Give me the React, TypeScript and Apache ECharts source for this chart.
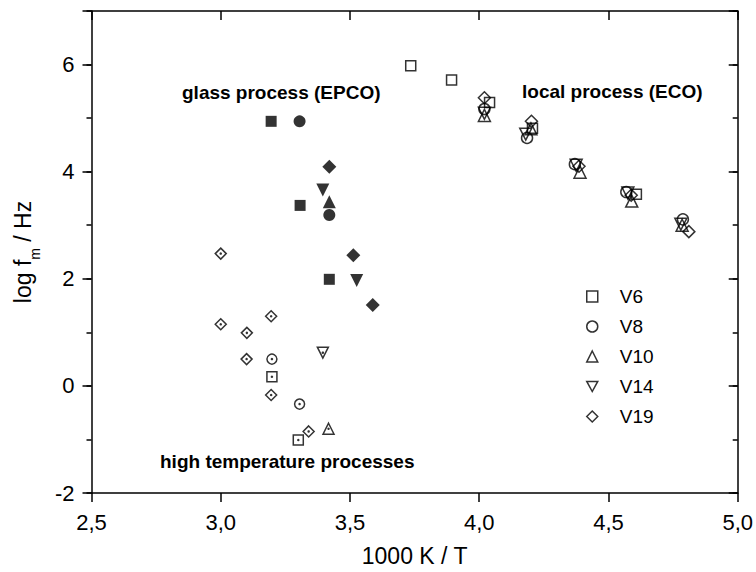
import React, { useEffect, useRef } from 'react';
import * as echarts from 'echarts';

// Samples (legend)
const samples = ['V6', 'V8', 'V10', 'V14', 'V19'];

// Local process (ECO) – open symbols  [1000K/T, log fm]
const v6Local = [[3.735, 5.98], [3.893, 5.71], [4.04, 5.29], [4.206, 4.81], [4.608, 3.58]];
const v8Local = [[4.02, 5.17], [4.185, 4.63], [4.37, 4.14], [4.569, 3.62], [4.788, 3.11]];
const v10Local = [[4.02, 5.05], [4.2, 4.8], [4.39, 3.99], [4.59, 3.45], [4.785, 3.0]];
const v14Local = [[4.02, 5.09], [4.18, 4.7], [4.375, 4.12], [4.575, 3.6], [4.78, 3.02]];
const v19Local = [[4.02, 5.38], [4.202, 4.94], [4.386, 4.1], [4.588, 3.56], [4.811, 2.88]];

// Glass process (EPCO) – filled symbols
const v6Glass = [[3.195, 4.94], [3.307, 3.37], [3.42, 1.99]];
const v8Glass = [[3.305, 4.94], [3.42, 3.19]];
const v10Glass = [[3.42, 3.44]];
const v14Glass = [[3.395, 3.66], [3.526, 1.97]];
const v19Glass = [[3.42, 4.09], [3.513, 2.44], [3.588, 1.51]];

// High temperature processes – open symbols with a centre dot
const v6High = [[3.198, 0.17], [3.3, -1.01]];
const v8High = [[3.198, 0.5], [3.305, -0.34]];
const v10High = [[3.417, -0.8]];
const v14High = [[3.395, 0.62]];
const v19High = [[3.0, 2.47], [3.0, 1.15], [3.101, 0.99], [3.195, 1.3], [3.1, 0.5], [3.195, -0.17], [3.34, -0.85]];

const localData = [v6Local, v8Local, v10Local, v14Local, v19Local];
const glassData = [v6Glass, v8Glass, v10Glass, v14Glass, v19Glass];
const highData = [v6High, v8High, v10High, v14High, v19High];

const FONT = '"Liberation Sans", Arial, Helvetica, sans-serif';
const DOWN_TRI = 'path://M0,0 L12,0 L6,11 Z';

const shapes = [
  { symbol: 'rect', open: 10, filled: 11, high: 10 },
  { symbol: 'circle', open: 11, filled: 12, high: 10 },
  { symbol: 'triangle', open: 12, filled: 13, high: 11 },
  { symbol: DOWN_TRI, open: 12, filled: 13, high: 11 },
  { symbol: 'diamond', open: 12, filled: 14, high: 11 },
];

const openStyle = { color: 'rgba(0,0,0,0)', borderColor: '#000', borderWidth: 1.5 };
const filledStyle = { color: '#000' };

export default function App() {
  const ref = useRef<HTMLDivElement>(null);

  useEffect(() => {
    document.body.style.margin = '0';
    const chart = echarts.init(ref.current as HTMLDivElement, null, { renderer: 'svg' });

    const series: any[] = [];
    samples.forEach((name, i) => {
      const s = shapes[i];
      series.push({
        name,
        type: 'scatter',
        data: localData[i],
        symbol: s.symbol,
        symbolSize: s.open,
        itemStyle: openStyle,
        emphasis: { disabled: true },
        z: 3,
      });
      series.push({
        name: name + ' glass',
        type: 'scatter',
        data: glassData[i],
        symbol: s.symbol,
        symbolSize: s.filled,
        itemStyle: filledStyle,
        emphasis: { disabled: true },
        z: 3,
      });
      series.push({
        name: name + ' high',
        type: 'scatter',
        data: highData[i],
        symbol: s.symbol,
        symbolSize: s.high,
        itemStyle: openStyle,
        emphasis: { disabled: true },
        z: 3,
      });
    });
    series.push({
      name: 'centre dots',
      type: 'scatter',
      data: highData.flat(),
      symbol: 'circle',
      symbolSize: 2.5,
      itemStyle: filledStyle,
      emphasis: { disabled: true },
      z: 4,
    });

    const axisLine = { show: true, onZero: false, lineStyle: { color: '#000', width: 1.5 } };
    const xCommon = { type: 'value', min: 2.5, max: 5, interval: 0.5, splitLine: { show: false } };
    const yCommon = { type: 'value', min: -2, max: 7, splitLine: { show: false } };

    const option: any = {
      animation: false,
      backgroundColor: '#fff',
      textStyle: { fontFamily: FONT, color: '#000' },
      grid: { left: 91.5, top: 11, width: 647, height: 483, containLabel: false },
      legend: {
        data: samples,
        orient: 'vertical',
        left: 581,
        top: 282,
        itemWidth: 11,
        itemHeight: 11,
        itemGap: 11,
        selectedMode: false,
        itemStyle: { color: 'rgba(0,0,0,0)', borderColor: '#000', borderWidth: 1.5 },
        formatter: '{n|{name}}',
        textStyle: {
          fontFamily: FONT,
          color: '#000',
          rich: { n: { fontFamily: FONT, fontSize: 19, lineHeight: 20, color: '#000', padding: [0, 0, 0, 17] } },
        },
      },
      xAxis: [
        {
          ...xCommon,
          position: 'bottom',
          name: '1000 K / T',
          nameLocation: 'middle',
          nameGap: 51,
          nameTextStyle: { fontFamily: FONT, fontSize: 23, color: '#000' },
          axisLine,
          axisTick: { show: true, inside: false, length: 9, lineStyle: { color: '#000', width: 1.5 } },
          axisLabel: {
            show: true,
            margin: 18,
            fontFamily: FONT,
            fontSize: 22,
            color: '#000',
            formatter: (v: number) => v.toFixed(1).replace('.', ','),
          },
        },
        {
          ...xCommon,
          position: 'top',
          axisLine,
          axisTick: { show: true, inside: true, length: 9, lineStyle: { color: '#000', width: 1.5 } },
          axisLabel: { show: false },
        },
      ],
      yAxis: [
        {
          ...yCommon,
          interval: 2,
          position: 'left',
          name: '{a|log f}{s|m}{a| / Hz}',
          nameLocation: 'middle',
          nameGap: 50,
          nameTextStyle: {
            fontFamily: FONT,
            color: '#000',
            rich: {
              a: { fontFamily: FONT, fontSize: 23, lineHeight: 38, color: '#000' },
              s: { fontFamily: FONT, fontSize: 14, lineHeight: 14, verticalAlign: 'bottom', color: '#000' },
            },
          },
          axisLine,
          axisTick: { show: true, inside: false, length: 9, lineStyle: { color: '#000', width: 1.5 } },
          axisLabel: {
            show: true,
            margin: 17,
            fontFamily: FONT,
            fontSize: 22,
            color: '#000',
            formatter: (v: number) => (v > 6 ? '' : String(v)),
          },
        },
        {
          ...yCommon,
          interval: 1,
          position: 'left',
          axisLine: { show: false },
          axisTick: { show: true, inside: false, length: 5, lineStyle: { color: '#000', width: 1.5 } },
          axisLabel: { show: false },
        },
        {
          ...yCommon,
          interval: 2,
          position: 'right',
          axisLine,
          axisTick: { show: true, inside: true, length: 9, lineStyle: { color: '#000', width: 1.5 } },
          axisLabel: { show: false },
        },
        {
          ...yCommon,
          interval: 1,
          position: 'right',
          axisLine: { show: false },
          axisTick: { show: true, inside: true, length: 5, lineStyle: { color: '#000', width: 1.5 } },
          axisLabel: { show: false },
        },
      ],
      graphic: [
        {
          type: 'text',
          left: 182,
          top: 83,
          style: { text: 'glass process (EPCO)', font: `bold 19px ${FONT}`, fill: '#000' },
        },
        {
          type: 'text',
          left: 522,
          top: 82,
          style: { text: 'local process (ECO)', font: `bold 19px ${FONT}`, fill: '#000' },
        },
        {
          type: 'text',
          left: 160,
          top: 452,
          style: { text: 'high temperature processes', font: `bold 19px ${FONT}`, fill: '#000' },
        },
      ],
      series,
    };

    chart.setOption(option);
    return () => chart.dispose();
  }, []);

  return <div ref={ref} style={{ width: 756, height: 572 }} />;
}
